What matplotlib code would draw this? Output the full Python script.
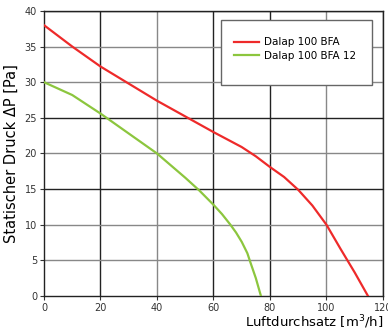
import matplotlib.pyplot as plt
from matplotlib.patches import Rectangle

bfa_x = [0, 10, 20, 30, 40, 50, 60, 70, 75, 80, 85, 90, 95, 100, 105, 110, 114.7]
bfa_y = [38, 35, 32.2, 29.8, 27.4, 25.2, 23.0, 20.9, 19.6, 18.1, 16.7, 14.9, 12.7, 10.0, 6.6, 3.3, 0]
bfa12_x = [0, 10, 20, 30, 40, 50, 55, 60, 63, 66, 68, 70, 72, 73, 75, 76.8]
bfa12_y = [30, 28.2, 25.6, 22.8, 20.0, 16.6, 14.8, 12.8, 11.5, 10.0, 8.9, 7.6, 6.0, 4.8, 2.5, 0]

x_ticks = [0, 20, 40, 60, 80, 100, 120]
y_ticks = [0, 5, 10, 15, 20, 25, 30, 35, 40]
dark_x = [20, 60, 80, 120]
dark_y = [0, 15, 25, 40]

fig = plt.figure(figsize=(3.88, 3.31), dpi=100)
ax = fig.add_axes([0.1134, 0.1057, 0.8736, 0.8613])

for x in x_ticks[1:]:
    ax.axvline(x, color='#222222' if x in dark_x else '#888888', lw=1.0, zorder=1)
for y in y_ticks[1:]:
    ax.axhline(y, color='#222222' if y in dark_y else '#888888', lw=1.0, zorder=1)

ax.plot(bfa_x, bfa_y, color='#ee2a2a', lw=1.6, label='Dalap 100 BFA', zorder=3)
ax.plot(bfa12_x, bfa12_y, color='#8cc63e', lw=1.6, label='Dalap 100 BFA 12', zorder=3)

ax.set_xlim(0, 120)
ax.set_ylim(0, 40)
ax.set_xticks(x_ticks)
ax.set_yticks(y_ticks)
ax.tick_params(labelsize=7, colors='#333333', length=3, width=0.8, pad=2)
for s in ax.spines.values():
    s.set_color('#222222')
    s.set_linewidth(1.0)

ax.set_ylabel('Statischer Druck ΔP [Pa]', fontsize=10.5, labelpad=4)
ax.set_xlabel('Luftdurchsatz [m$^3$/h]', fontsize=9.5, labelpad=0, loc='right')

# legend box drawn separately (tall box, tight entries)
ax.add_patch(Rectangle((0.522, 0.740), 0.446, 0.228, transform=ax.transAxes,
                       facecolor='white', edgecolor='#666666', lw=1.0, zorder=4))
leg = ax.legend(loc='upper left', bbox_to_anchor=(0.56, 0.907), fontsize=7.5,
                frameon=False, borderpad=0, handlelength=2.4, handletextpad=0.5,
                labelspacing=0.3, borderaxespad=0)
leg.set_zorder(5)

fig.savefig('out.png', dpi=100)
